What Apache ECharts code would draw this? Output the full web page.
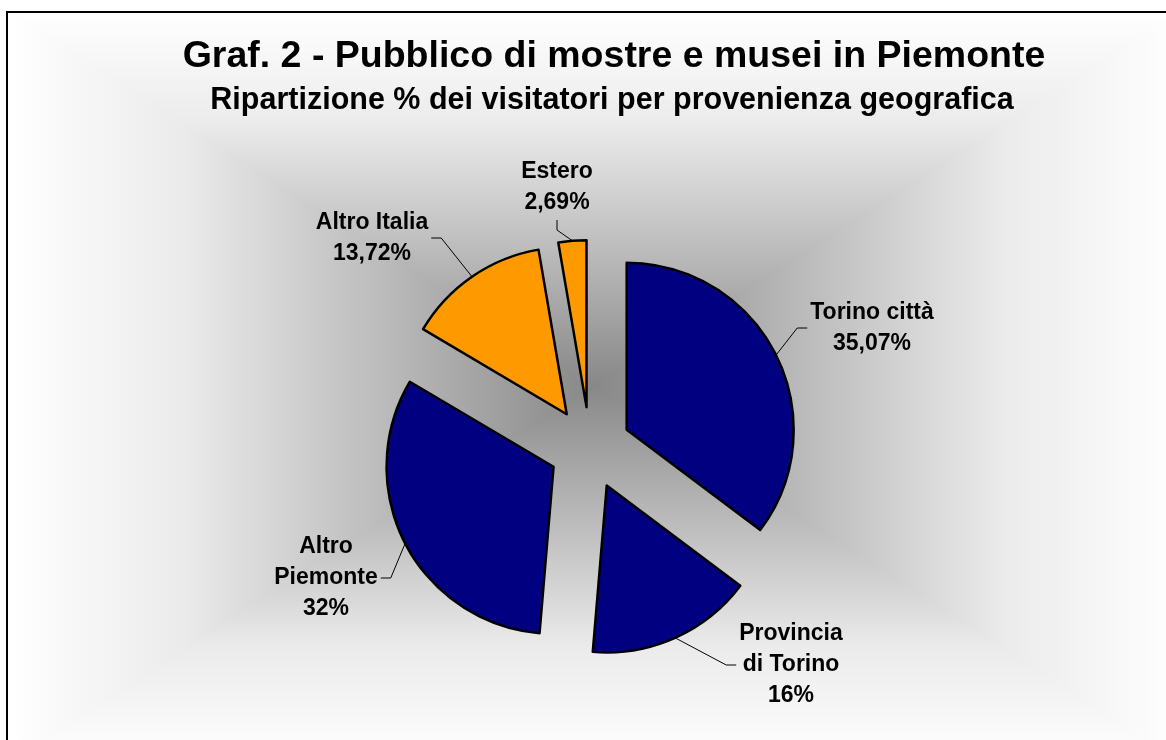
<!DOCTYPE html>
<html>
<head>
<meta charset="utf-8">
<script src="https://cdn.jsdelivr.net/npm/echarts@6/dist/echarts.min.js"></script>
<style>
  html, body { margin: 0; padding: 0; background: #fff; }
  #chart { width: 1166px; height: 740px; }
</style>
</head>
<body>
<div id="chart"></div>
<script>
  // dati del grafico
  var categories = ['Torino città', 'Provincia di Torino', 'Altro Piemonte', 'Altro Italia', 'Estero'];
  var labelNames = ['Torino città', 'Provincia\ndi Torino', 'Altro\nPiemonte', 'Altro Italia', 'Estero'];
  var values = [35.07, 16, 32, 13.72, 2.69];
  var sliceColors = ['#000080', '#000080', '#000080', '#ff9900', '#ff9900'];

  // dove stanno le etichette nell'originale (centro del blocco) e da che lato
  var labelPos = [[872, 328], [791, 665], [326, 578], [372, 238], [557, 187]];
  var labelSide = ['right', 'right', 'left', 'left', 'top'];

  var titleText = 'Graf. 2 - Pubblico di mostre e musei in Piemonte';
  var subText = 'Ripartizione % dei visitatori per provenienza geografica';
  var font = '"Liberation Sans", Arial, sans-serif';
  var explode = 41;

  // sfondo: sfumatura rettangolare dal centro
  var bx0 = 8, by0 = 13, bx1 = 1180, by1 = 760, cx = 594, cy = 386;
  function grad(x, y, x2, y2) {
    return {
      type: 'linear', x: x, y: y, x2: x2, y2: y2, global: true,
      colorStops: [
        { offset: 0, color: '#ffffff' },
        { offset: 0.3, color: '#ebebeb' },
        { offset: 1, color: '#888888' }
      ]
    };
  }
  var bg = [
    { type: 'rect', z: -10, silent: true, shape: { x: bx0, y: by0, width: bx1 - bx0, height: cy - by0 }, style: { fill: grad(0, by0, 0, cy) } },
    { type: 'rect', z: -10, silent: true, shape: { x: bx0, y: cy, width: bx1 - bx0, height: by1 - cy }, style: { fill: grad(0, by1, 0, cy) } },
    { type: 'polygon', z: -9, silent: true, shape: { points: [[bx0, by0], [bx0, by1], [cx, cy]] }, style: { fill: grad(bx0, 0, cx, 0) } },
    { type: 'polygon', z: -9, silent: true, shape: { points: [[bx1, by0], [bx1, by1], [cx, cy]] }, style: { fill: grad(bx1, 0, cx, 0) } }
  ];

  function fmtVal(v) {
    return String(v).replace('.', ',') + '%';
  }

  // spostamento della fetta esplosa (le etichette sono nel suo sistema locale)
  var total = values.reduce(function (a, b) { return a + b; }, 0);
  function sliceShift(i) {
    var before = 0;
    for (var k = 0; k < i; k++) before += values[k];
    var a = (before + values[i] / 2) / total * Math.PI * 2;
    return [explode * Math.sin(a), -explode * Math.cos(a)];
  }

  var chart = echarts.init(document.getElementById('chart'));
  chart.setOption({
    animation: false,
    graphic: bg.concat([
      {
        type: 'rect', z: -5, silent: true,
        shape: { x: 7, y: 12, width: 1200, height: 800 },
        style: { fill: 'none', stroke: '#000', lineWidth: 2 }
      },
      {
        type: 'text', x: 614, y: 57, z: 10,
        style: { text: titleText, font: 'bold 37.5px ' + font, fill: '#000', align: 'center', verticalAlign: 'middle', textAlign: 'center', textVerticalAlign: 'middle' }
      },
      {
        type: 'text', x: 612, y: 101, z: 10,
        style: { text: subText, font: 'bold 30.5px ' + font, fill: '#000', align: 'center', verticalAlign: 'middle', textAlign: 'center', textVerticalAlign: 'middle' }
      }
    ]),
    series: [{
      type: 'pie',
      center: [590, 448],
      radius: 167,
      startAngle: 90,
      clockwise: true,
      selectedMode: 'multiple',
      selectedOffset: explode,
      avoidLabelOverlap: false,
      emphasis: { disabled: true },
      itemStyle: { borderColor: '#000', borderWidth: 2.5 },
      label: {
        show: true,
        position: 'outside',
        formatter: function (p) {
          var txt = labelNames[p.dataIndex] + '\n' + fmtVal(values[p.dataIndex]);
          return txt.split('\n').map(function (s) { return '{a|' + s + '}'; }).join('\n');
        },
        rich: {
          a: { align: 'center', color: '#000', fontFamily: font, fontWeight: 'bold', fontSize: 23, lineHeight: 31 }
        }
      },
      labelLine: { show: true, length: 10, length2: 10, lineStyle: { color: '#000', width: 1 } },
      labelLayout: function (params) {
        var i = params.dataIndex;
        var r = params.labelRect;
        var s = sliceShift(i);
        var t = [labelPos[i][0] - s[0], labelPos[i][1] - s[1]];
        var start = params.labelLinePoints[0];
        var end, turn;
        if (labelSide[i] === 'right') {
          end = [t[0] - r.width / 2 - 3, t[1]];
          turn = [end[0] - 10, t[1]];
        } else if (labelSide[i] === 'left') {
          end = [t[0] + r.width / 2 + 3, t[1]];
          turn = [end[0] + 10, t[1]];
        } else {
          end = [t[0], t[1] + r.height / 2 + 6];
          turn = [t[0], end[1] + 10];
        }
        return {
          dx: t[0] - (r.x + r.width / 2),
          dy: t[1] - (r.y + r.height / 2),
          labelLinePoints: [start, turn, end]
        };
      },
      data: values.map(function (v, i) {
        return { name: categories[i], value: v, selected: true, itemStyle: { color: sliceColors[i] } };
      })
    }]
  });
</script>
</body>
</html>
